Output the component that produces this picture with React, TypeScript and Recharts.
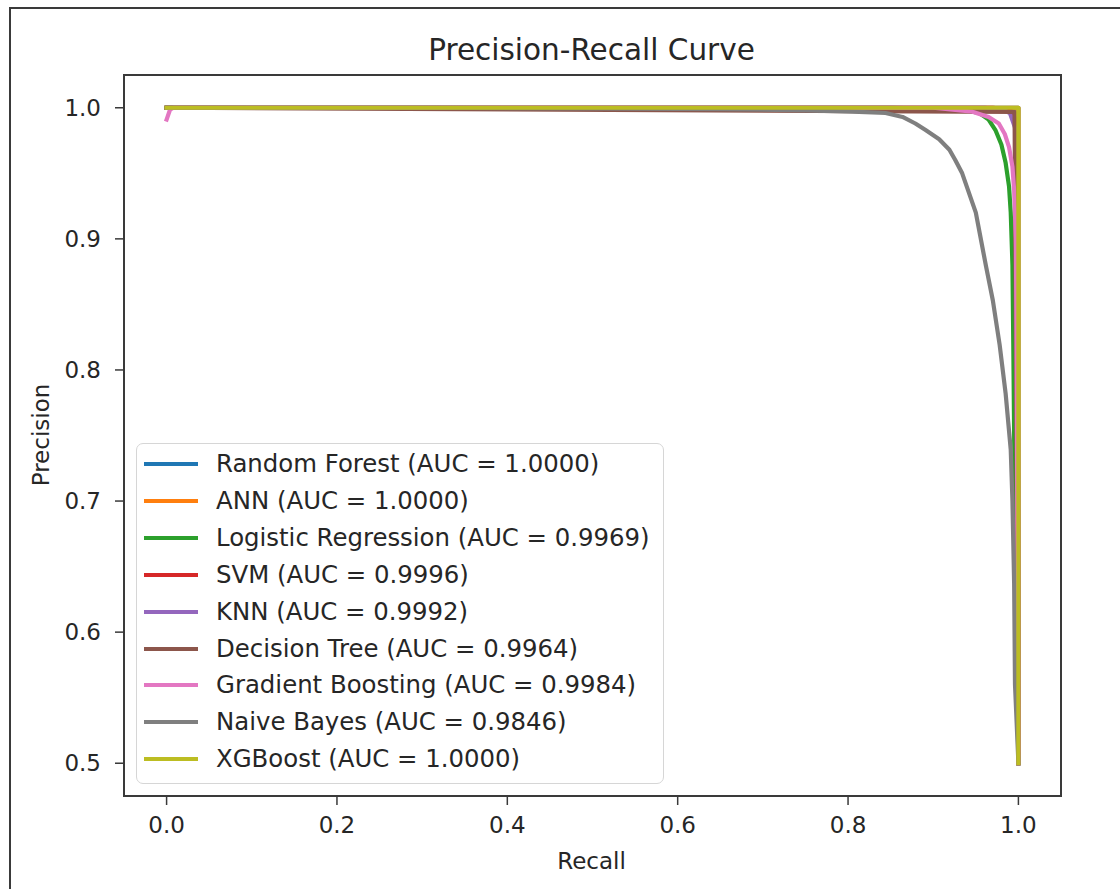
import React from 'react';
import { LineChart, Line, XAxis, YAxis, Legend, ReferenceArea } from 'recharts';

// ---- data ----
const modelNames = [
  'Random Forest',
  'ANN',
  'Logistic Regression',
  'SVM',
  'KNN',
  'Decision Tree',
  'Gradient Boosting',
  'Naive Bayes',
  'XGBoost',
];
const aucLabels = ['1.0000', '1.0000', '0.9969', '0.9996', '0.9992', '0.9964', '0.9984', '0.9846', '1.0000'];
const colors = ['#1f77b4', '#ff7f0e', '#2ca02c', '#d62728', '#9467bd', '#8c564b', '#e377c2', '#7f7f7f', '#bcbd22'];

const recallRF = [0, 1, 1];
const precisionRF = [1, 1, 0.5];

const recallANN = [0, 1, 1];
const precisionANN = [1, 1, 0.5];

const recallLR = [0, 0.85, 0.93, 0.954, 0.965, 0.973, 0.98, 0.985, 0.989, 0.991, 0.993, 0.994, 0.995, 0.997, 1.0];
const precisionLR = [1, 1, 0.999, 0.996, 0.991, 0.983, 0.972, 0.958, 0.94, 0.92, 0.88, 0.82, 0.75, 0.62, 0.5];

const recallSVM = [0, 0.97, 0.985, 0.993, 0.997, 0.999, 1.0];
const precisionSVM = [1, 1, 0.999, 0.997, 0.99, 0.95, 0.5];

const recallKNN = [0, 0.96, 0.98, 0.99, 0.996, 0.999, 1.0];
const precisionKNN = [1, 1, 0.999, 0.996, 0.985, 0.93, 0.5];

const recallDT = [0, 0.9955, 1.0];
const precisionDT = [1, 0.9968, 0.5];

const recallGB = [0, 0.004, 0.008, 0.9, 0.946, 0.965, 0.977, 0.984, 0.989, 0.993, 0.995, 0.997, 0.998, 1.0];
const precisionGB = [0.991, 0.9985, 1.0, 1.0, 0.997, 0.993, 0.988, 0.98, 0.97, 0.955, 0.937, 0.9, 0.8, 0.5];

const recallNB = [0, 0.3, 0.5, 0.65, 0.75, 0.805, 0.844, 0.864, 0.879, 0.891, 0.907, 0.919, 0.926, 0.934, 0.95, 0.962, 0.97, 0.978, 0.985, 0.991, 0.993, 0.995, 0.996, 1.0];
const precisionNB = [1, 1, 0.9995, 0.999, 0.998, 0.997, 0.996, 0.993, 0.988, 0.983, 0.976, 0.968, 0.96, 0.95, 0.92, 0.879, 0.853, 0.819, 0.782, 0.739, 0.7, 0.637, 0.56, 0.5];

const recallXGB = [0, 1, 1];
const precisionXGB = [1, 1, 0.5];

const xTicks = [0, 0.2, 0.4, 0.6, 0.8, 1.0];
const yTicks = [0.5, 0.6, 0.7, 0.8, 0.9, 1.0];

const recalls = [recallRF, recallANN, recallLR, recallSVM, recallKNN, recallDT, recallGB, recallNB, recallXGB];
const precisions = [precisionRF, precisionANN, precisionLR, precisionSVM, precisionKNN, precisionDT, precisionGB, precisionNB, precisionXGB];

const series = modelNames.map((name, i) => ({
  name,
  label: `${name} (AUC = ${aucLabels[i]})`,
  color: colors[i],
  data: recalls[i].map((r, j) => ({ recall: r, precision: precisions[i][j] })),
}));

const FONT = '"DejaVu Sans", sans-serif';
const TEXT = '#262626';
const FRAME = '#3a3a3a';

const renderLegend = () => (
  <div
    style={{
      position: 'relative',
      width: 528,
      height: 341,
      boxSizing: 'border-box',
      border: '1.5px solid #d6d6d6',
      borderRadius: 7,
      background: 'rgba(255,255,255,0.85)',
      fontFamily: FONT,
      fontSize: 24.4,
      color: TEXT,
    }}
  >
    {series.map((s, i) => (
      <div
        key={s.name}
        style={{
          position: 'absolute',
          left: 7,
          top: 20 + i * 36.9 - 15,
          height: 30,
          display: 'flex',
          alignItems: 'center',
          whiteSpace: 'nowrap',
        }}
      >
        <svg width={54} height={6} style={{ display: 'block' }}>
          <line x1={0} y1={3} x2={54} y2={3} stroke={s.color} strokeWidth={4} />
        </svg>
        <span style={{ marginLeft: 18, lineHeight: '30px' }}>{s.label}</span>
      </div>
    ))}
  </div>
);

export default function App() {
  return (
    <div style={{ position: 'absolute', left: 0, top: 0, width: 1120, height: 889, background: '#fff', overflow: 'hidden' }}>
      <div
        style={{
          position: 'absolute',
          left: 9,
          top: 7,
          width: 1200,
          height: 1000,
          borderLeft: `2px solid ${FRAME}`,
          borderTop: `2px solid ${FRAME}`,
        }}
      />
      <div style={{ position: 'absolute', left: 0, top: 0 }}>
        <LineChart width={1120} height={889} margin={{ top: 75, right: 59, bottom: 53, left: 44 }}>
          <XAxis
            dataKey="recall"
            type="number"
            domain={[-0.05, 1.05]}
            ticks={xTicks}
            tickFormatter={(v: number) => v.toFixed(1)}
            allowDataOverflow
            axisLine={false}
            tickLine={{ stroke: FRAME, strokeWidth: 1.5 }}
            tickSize={9}
            tickMargin={12}
            height={40}
            tick={{ fill: TEXT, fontSize: 23, fontFamily: FONT }}
          />
          <YAxis
            type="number"
            domain={[0.475, 1.025]}
            ticks={yTicks}
            tickFormatter={(v: number) => v.toFixed(1)}
            allowDataOverflow
            axisLine={false}
            tickLine={{ stroke: FRAME, strokeWidth: 1.5 }}
            tickSize={9}
            tickMargin={14}
            width={80}
            tick={{ fill: TEXT, fontSize: 23, fontFamily: FONT }}
          />
          <ReferenceArea
            x1={-0.05}
            x2={1.05}
            y1={0.475}
            y2={1.025}
            fill="none"
            stroke={FRAME}
            strokeWidth={2}
            ifOverflow="visible"
          />
          {series.map((s) => (
            <Line
              key={s.name}
              data={s.data}
              dataKey="precision"
              name={s.label}
              type="linear"
              stroke={s.color}
              strokeWidth={4.2}
              strokeLinecap="square"
              strokeLinejoin="round"
              dot={false}
              activeDot={false}
              isAnimationActive={false}
            />
          ))}
          <Legend
            layout="vertical"
            align="center"
            verticalAlign="middle"
            content={renderLegend}
            wrapperStyle={{ left: 136, top: 443, width: 528, height: 341 }}
          />
        </LineChart>
      </div>
      <svg
        width={1120}
        height={889}
        style={{ position: 'absolute', left: 0, top: 0, pointerEvents: 'none' }}
      >
        <text x={591.5} y={60} textAnchor="middle" fontFamily={FONT} fontSize={29.5} fill={TEXT}>
          Precision-Recall Curve
        </text>
        <text x={591.5} y={869} textAnchor="middle" fontFamily={FONT} fontSize={23} fill={TEXT}>
          Recall
        </text>
        <text
          transform="translate(49,435) rotate(-90)"
          textAnchor="middle"
          fontFamily={FONT}
          fontSize={23}
          fill={TEXT}
        >
          Precision
        </text>
      </svg>
    </div>
  );
}
